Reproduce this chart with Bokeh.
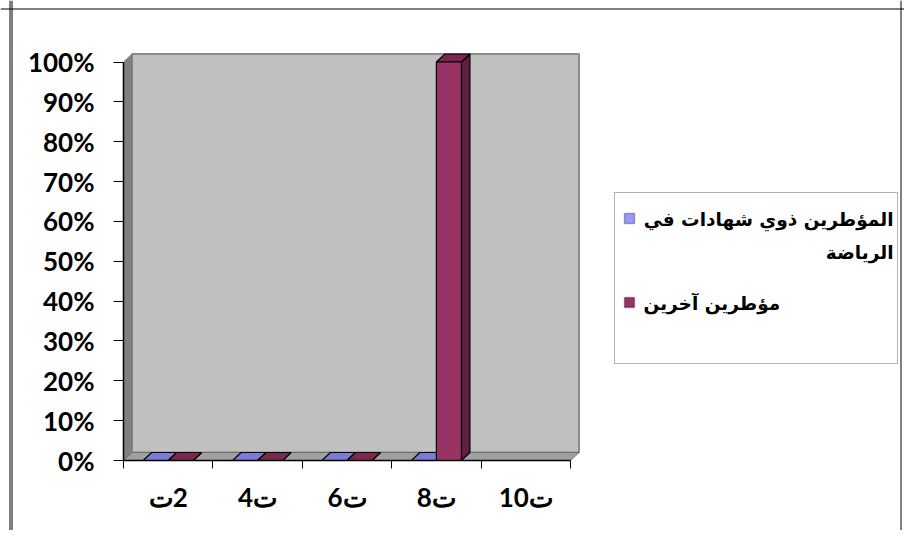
from bokeh.plotting import figure
from bokeh.models import Range1d, FixedTicker, NumeralTickFormatter, Label, BoxAnnotation, Span
from bokeh.embed import file_html
from bokeh.resources import INLINE

# ---------------- data ----------------
categories = ["ت\u200e2", "ت4", "ت6", "ت8", "ت10"]
series_names = ["المؤطرين ذوي شهادات في", "الرياضة", "مؤطرين آخرين"]
certified = [0.0, 0.0, 0.0, 0.0, None]
others = [0.0, 0.0, 0.0, 1.0, None]
y_ticks = [0.0, 0.1, 0.2, 0.3, 0.4, 0.5, 0.6, 0.7, 0.8, 0.9, 1.0]

# ---------------- layout ----------------
W, H = 904, 530
X0_PX, Y0_PX = 123, 460          # canvas position of the axes origin
CAT_PX, VAL_PX = 89.4, 398.5
n = len(categories)
ymax = y_ticks[-1]
DX = 8.5 / CAT_PX
DY = 8.0 / VAL_PX
BW = 0.28

p = figure(width=W, height=H, output_backend="svg", toolbar_location=None,
           x_range=Range1d(-X0_PX / CAT_PX, (W - X0_PX) / CAT_PX),
           y_range=Range1d((Y0_PX - H) / VAL_PX, Y0_PX / VAL_PX),
           min_border_left=0, min_border_right=0, min_border_top=0, min_border_bottom=0)
p.outline_line_color = None
p.grid.visible = False
p.background_fill_color = "white"
p.border_fill_color = "white"

# walls and floor
p.quad(left=DX, right=n + DX, bottom=DY, top=ymax + DY,
       fill_color="#C0C0C0", line_color="#8C8C8C", line_width=2)
p.patch([0, DX, DX, 0], [0, DY, ymax + DY, ymax],
        fill_color="#808080", line_color="#7A7A7A", line_width=1)
p.patch([0, n, n + DX, DX], [0, 0, DY, DY],
        fill_color="#A0A0A0", line_color="#707070", line_width=1)

# bars
colors = [("#9999FF", "#7B7BD6", "#6A6AB8"), ("#993366", "#7A2852", "#5E1F40")]
xs, ys, fills = [], [], []
for i in range(n):
    for s, vals in enumerate([certified, others]):
        v = vals[i]
        if v is None:
            continue
        x0 = i + 0.5 - BW + s * BW
        x1 = x0 + BW
        front, top, side = colors[s]
        xs.append([x1, x1 + DX, x1 + DX, x1]); ys.append([0, DY, v + DY, v]); fills.append(side)
        xs.append([x0, x1, x1 + DX, x0 + DX]); ys.append([v, v, v + DY, v + DY]); fills.append(top)
        if v > 0:
            xs.append([x0, x1, x1, x0]); ys.append([0, 0, v, v]); fills.append(front)
p.patches(xs, ys, fill_color=fills, line_color="black", line_width=1.2)

# axes (fixed at the origin so the frame spans the whole canvas)
tick_font = "Lato"
p.yaxis.fixed_location = 0
p.yaxis.ticker = FixedTicker(ticks=y_ticks)
p.yaxis.formatter = NumeralTickFormatter(format="0%")
p.yaxis.bounds = (0, ymax)
p.yaxis.major_tick_in = 0
p.yaxis.major_tick_out = 10
p.yaxis.minor_tick_line_color = None
p.yaxis.major_label_standoff = 19
p.yaxis.axis_line_color = "black"
p.yaxis.axis_line_width = 1.5

p.xaxis.fixed_location = 0
p.xaxis.ticker = FixedTicker(ticks=[i + 0.5 for i in range(n)], minor_ticks=list(range(n + 1)))
p.xaxis.major_label_overrides = {i + 0.5: c for i, c in enumerate(categories)}
p.xaxis.major_tick_line_color = None
p.xaxis.minor_tick_in = 0
p.xaxis.minor_tick_out = 8
p.xaxis.minor_tick_line_color = "black"
p.xaxis.bounds = (0, n)
p.xaxis.major_label_standoff = 12
p.xaxis.axis_line_width = 1.5

for ax in (p.xaxis, p.yaxis):
    ax.major_label_text_font = tick_font
    ax.major_label_text_font_size = "26px"
    ax.major_label_text_font_style = "bold"
    ax.major_label_text_color = "black"

# legend and border (screen units; the frame is the whole canvas)
def sx(px):
    return px

def sy(py):
    return H - py

def box(l, r, t, b, **kw):
    p.add_layout(BoxAnnotation(left=sx(l), right=sx(r), top=sy(t), bottom=sy(b),
                               left_units="screen", right_units="screen",
                               top_units="screen", bottom_units="screen", **kw))

box(614, 897, 192, 363, fill_color=None, line_color="black", line_width=1)
box(624, 634, 213, 223, fill_color="#9999FF", fill_alpha=1, line_color="black", line_width=1.5)
box(624, 634, 297, 307, fill_color="#993366", fill_alpha=1, line_color="black", line_width=1.5)

leg_font = "DejaVu Sans"
for txt, x, y, align in [(series_names[0], 893, 219, "right"),
                         (series_names[1], 893, 252, "right"),
                         (series_names[2], 643, 303, "left")]:
    p.add_layout(Label(x=sx(x), y=sy(y), x_units="screen", y_units="screen", text=txt,
                       text_font=leg_font, text_font_size="18.5px", text_font_style="bold",
                       text_align=align, text_baseline="middle", text_color="black"))

# chart border: double rule on the left, single rules on top and right
for loc, dim in [(sx(9.5), "height"), (sx(11.5), "height"), (sx(900.5), "height"),
                 (sy(8.5), "width")]:
    p.add_layout(Span(location=loc, location_units="screen", dimension=dim,
                      line_color="black", line_width=1))

open("out.html", "w").write(file_html(p, INLINE))
